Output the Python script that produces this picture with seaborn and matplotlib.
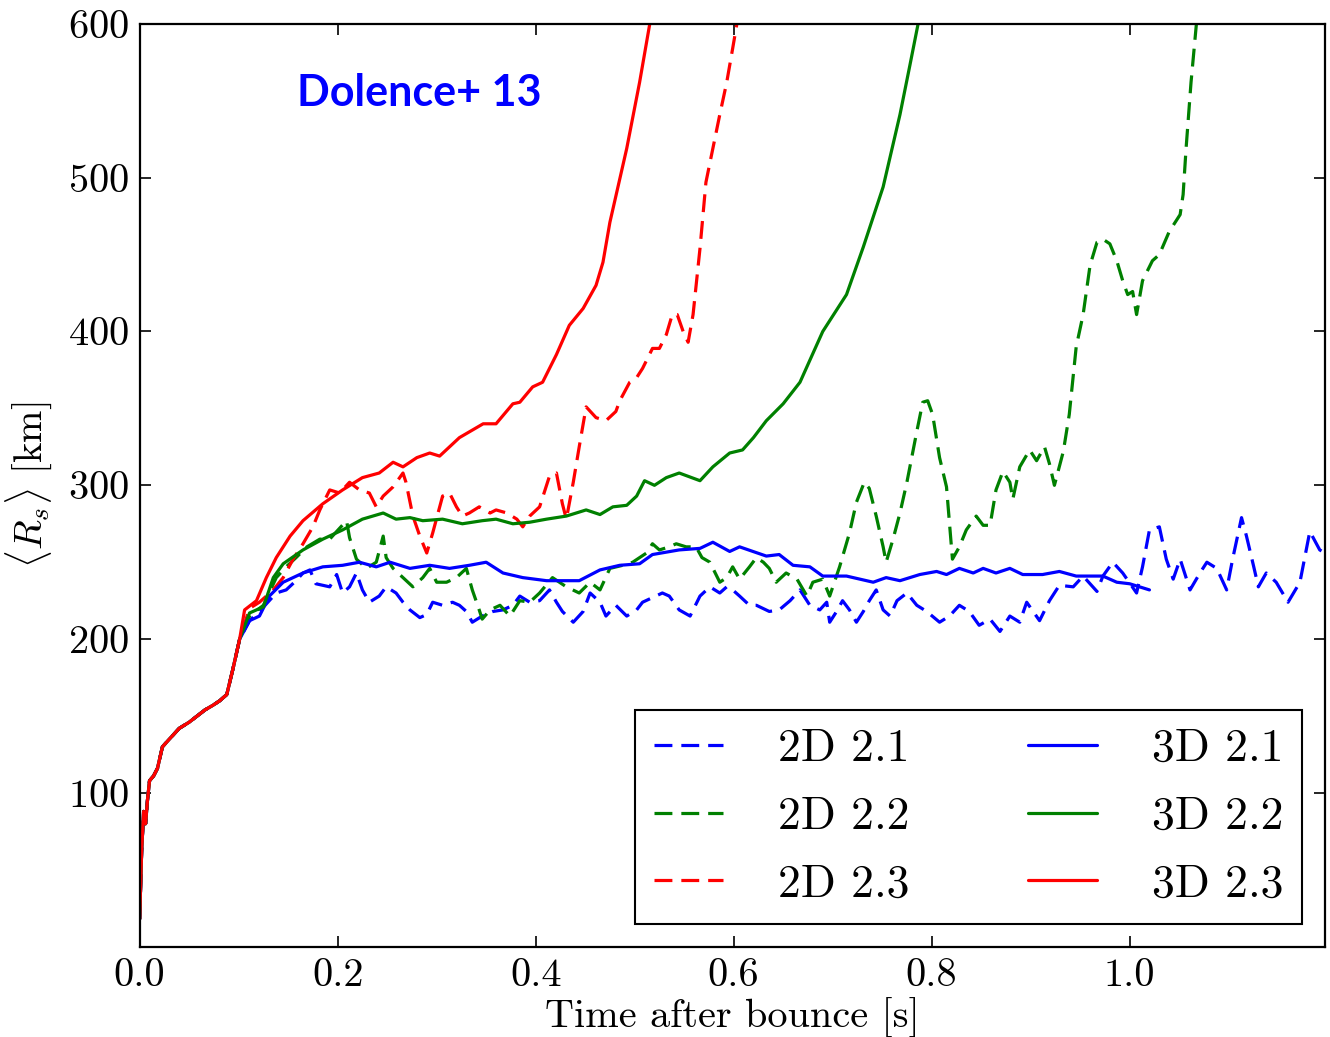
import matplotlib
matplotlib.use("Agg")
import pandas as pd
import matplotlib.pyplot as plt
import seaborn as sns

# Style
sns.set_style("ticks")
plt.rcParams["font.family"] = "serif"
plt.rcParams["font.serif"] = ["cmr10"]
plt.rcParams["mathtext.fontset"] = "cm"
plt.rcParams["axes.formatter.use_mathtext"] = True
for key in ["text.color", "axes.labelcolor", "xtick.color", "ytick.color", "axes.edgecolor"]:
    plt.rcParams[key] = "black"

# Shared early rise (all runs overlap here)
early_t = [0.000, 0.002, 0.004, 0.006, 0.008, 0.010, 0.014, 0.018, 0.023, 0.030,
           0.040, 0.050, 0.058, 0.066, 0.074, 0.081, 0.088, 0.094, 0.101]
early_r = [18, 62, 88, 80, 96, 108, 111, 116, 130, 135,
           142, 146, 150, 154, 157, 160, 164, 180, 200]

# 2D runs (dashed)
t2_21 = [0.111, 0.121, 0.131, 0.138, 0.148, 0.158, 0.165, 0.172, 0.178, 0.192,
         0.199, 0.205, 0.212, 0.219, 0.225, 0.232, 0.242, 0.249, 0.259, 0.266,
         0.273, 0.283, 0.290, 0.296, 0.306, 0.316, 0.323, 0.330, 0.336, 0.346,
         0.357, 0.367, 0.377, 0.384, 0.394, 0.404, 0.414, 0.421, 0.427, 0.438,
         0.448, 0.455, 0.465, 0.471, 0.481, 0.492, 0.502, 0.508, 0.518, 0.528,
         0.535, 0.545, 0.556, 0.566, 0.576, 0.586, 0.593, 0.599, 0.606, 0.616,
         0.623, 0.636, 0.646, 0.657, 0.667, 0.677, 0.687, 0.694, 0.697, 0.704,
         0.710, 0.717, 0.724, 0.731, 0.737, 0.744, 0.751, 0.758, 0.765, 0.775,
         0.785, 0.795, 0.808, 0.818, 0.828, 0.838, 0.848, 0.859, 0.869, 0.879,
         0.889, 0.896, 0.909, 0.919, 0.929, 0.943, 0.953, 0.967, 0.973, 0.983,
         0.993, 1.007, 1.013, 1.020, 1.030, 1.037, 1.044, 1.051, 1.061, 1.071,
         1.078, 1.088, 1.098, 1.104, 1.113, 1.118, 1.125, 1.130, 1.138, 1.148,
         1.160, 1.172, 1.182, 1.192, 1.200]
r2_21 = [212, 218, 225, 230, 232, 238, 243, 245, 236, 234,
         242, 230, 234, 243, 232, 224, 228, 234, 230, 224,
         219, 214, 216, 224, 222, 224, 222, 218, 211, 215,
         218, 219, 222, 228, 224, 225, 232, 224, 218, 211,
         218, 230, 224, 215, 222, 215, 219, 224, 227, 230,
         228, 219, 215, 228, 234, 230, 234, 232, 228, 222,
         222, 218, 219, 225, 232, 222, 219, 224, 211, 218,
         225, 219, 211, 218, 225, 232, 219, 215, 225, 230,
         222, 218, 211, 215, 222, 218, 209, 213, 205, 215,
         211, 224, 212, 225, 235, 234, 241, 231, 241, 250,
         243, 230, 247, 271, 273, 252, 239, 252, 232, 243,
         250, 246, 232, 252, 279, 267, 248, 234, 243, 237,
         224, 237, 270, 258, 255]

t2_22 = [0.111, 0.125, 0.138, 0.148, 0.158, 0.169, 0.182, 0.192, 0.199, 0.209,
         0.212, 0.219, 0.229, 0.239, 0.246, 0.249, 0.256, 0.266, 0.276, 0.286,
         0.293, 0.300, 0.310, 0.320, 0.330, 0.336, 0.343, 0.346, 0.354, 0.364,
         0.374, 0.384, 0.394, 0.404, 0.417, 0.431, 0.444, 0.455, 0.465, 0.475,
         0.488, 0.498, 0.512, 0.518, 0.525, 0.535, 0.542, 0.552, 0.562, 0.568,
         0.576, 0.586, 0.593, 0.599, 0.606, 0.616, 0.623, 0.630, 0.636, 0.643,
         0.653, 0.664, 0.674, 0.680, 0.690, 0.697, 0.707, 0.717, 0.724, 0.732,
         0.737, 0.744, 0.751, 0.754, 0.761, 0.768, 0.775, 0.785, 0.791, 0.796,
         0.801, 0.808, 0.815, 0.821, 0.828, 0.835, 0.845, 0.852, 0.859, 0.865,
         0.872, 0.879, 0.882, 0.889, 0.899, 0.906, 0.914, 0.919, 0.924, 0.933,
         0.939, 0.946, 0.953, 0.960, 0.967, 0.973, 0.980, 0.987, 0.993, 0.998,
         1.003, 1.007, 1.013, 1.023, 1.030, 1.040, 1.051, 1.054, 1.057, 1.062,
         1.067, 1.071]
r2_22 = [215, 222, 240, 247, 253, 260, 265, 265, 270, 277,
         266, 252, 246, 250, 267, 253, 246, 240, 234, 240,
         246, 237, 237, 240, 246, 232, 219, 213, 219, 222,
         215, 225, 224, 230, 240, 234, 230, 237, 232, 246,
         248, 250, 256, 262, 258, 260, 262, 260, 260, 253,
         250, 237, 240, 247, 239, 247, 253, 250, 246, 237,
         243, 239, 228, 237, 239, 228, 247, 269, 289, 302,
         298, 280, 260, 250, 265, 282, 302, 335, 354, 355,
         346, 318, 299, 252, 260, 271, 280, 274, 274, 297,
         309, 302, 291, 312, 323, 316, 325, 314, 300, 322,
         346, 390, 411, 443, 458, 460, 457, 446, 433, 424,
         426, 411, 433, 446, 450, 465, 476, 489, 519, 562,
         597, 625]

t2_23 = [0.111, 0.121, 0.135, 0.145, 0.155, 0.165, 0.175, 0.182, 0.192, 0.202,
         0.212, 0.222, 0.232, 0.239, 0.246, 0.256, 0.266, 0.269, 0.276, 0.283,
         0.290, 0.296, 0.306, 0.313, 0.320, 0.326, 0.333, 0.343, 0.354, 0.360,
         0.371, 0.381, 0.387, 0.394, 0.404, 0.414, 0.421, 0.427, 0.431, 0.438,
         0.444, 0.451, 0.461, 0.471, 0.481, 0.485, 0.495, 0.502, 0.508, 0.518,
         0.525, 0.532, 0.538, 0.543, 0.549, 0.554, 0.559, 0.566, 0.572, 0.579,
         0.586, 0.593, 0.599, 0.603, 0.607]
r2_23 = [220, 224, 232, 240, 252, 262, 273, 284, 297, 295,
         302, 297, 295, 286, 293, 299, 308, 302, 280, 267,
         256, 269, 293, 295, 286, 280, 282, 286, 282, 284,
         282, 278, 273, 280, 286, 306, 308, 288, 278, 302,
         325, 351, 344, 342, 348, 355, 367, 370, 376, 389,
         389, 398, 411, 411, 400, 393, 411, 454, 497, 519,
         541, 562, 584, 599, 620]

# 3D runs (solid)
t3_21 = [0.111, 0.121, 0.131, 0.145, 0.165, 0.185, 0.205, 0.222, 0.239, 0.253,
         0.273, 0.293, 0.313, 0.333, 0.350, 0.367, 0.387, 0.411, 0.444, 0.465,
         0.485, 0.505, 0.518, 0.545, 0.566, 0.579, 0.596, 0.606, 0.633, 0.646,
         0.660, 0.677, 0.690, 0.714, 0.741, 0.754, 0.768, 0.788, 0.805, 0.815,
         0.828, 0.842, 0.852, 0.865, 0.879, 0.892, 0.912, 0.929, 0.946, 0.973,
         0.987, 1.000, 1.020]
r3_21 = [212, 215, 228, 237, 243, 247, 248, 250, 247, 250,
         246, 248, 246, 248, 250, 243, 240, 238, 238, 245,
         248, 249, 255, 258, 259, 263, 257, 260, 254, 255,
         248, 247, 241, 241, 237, 240, 238, 242, 244, 242,
         246, 243, 246, 243, 246, 242, 242, 244, 241, 241,
         237, 236, 232]

t3_22 = [0.111, 0.125, 0.135, 0.145, 0.165, 0.185, 0.205, 0.225, 0.246, 0.259,
         0.273, 0.286, 0.306, 0.326, 0.346, 0.360, 0.377, 0.394, 0.411, 0.431,
         0.451, 0.465, 0.478, 0.492, 0.502, 0.510, 0.520, 0.532, 0.545, 0.566,
         0.579, 0.596, 0.609, 0.620, 0.633, 0.650, 0.667, 0.690, 0.714, 0.731,
         0.751, 0.768, 0.778, 0.786, 0.792]
r3_22 = [217, 221, 240, 249, 258, 265, 271, 278, 282, 278,
         279, 277, 278, 275, 277, 278, 275, 276, 278, 280,
         284, 281, 286, 287, 293, 303, 300, 305, 308, 303,
         312, 321, 323, 331, 342, 353, 367, 400, 424, 455,
         494, 541, 573, 599, 620]

t3_23 = [0.106, 0.118, 0.128, 0.138, 0.152, 0.165, 0.185, 0.205, 0.225, 0.242,
         0.256, 0.266, 0.280, 0.293, 0.303, 0.323, 0.347, 0.360, 0.377, 0.384,
         0.397, 0.407, 0.421, 0.434, 0.448, 0.461, 0.468, 0.475, 0.492, 0.505,
         0.515, 0.522]
r3_23 = [219, 225, 240, 253, 267, 277, 288, 297, 305, 308,
         315, 312, 318, 321, 319, 331, 340, 340, 353, 354,
         364, 367, 385, 404, 415, 430, 445, 471, 519, 562,
         599, 625]

dash = (0, (5.6, 2.8))
runs = [
    ("2D 2.1", t2_21, r2_21, "#0000ff", dash),
    ("2D 2.2", t2_22, r2_22, "#008000", dash),
    ("2D 2.3", t2_23, r2_23, "#ff0000", dash),
    ("3D 2.1", t3_21, r3_21, "#0000ff", "-"),
    ("3D 2.2", t3_22, r3_22, "#008000", "-"),
    ("3D 2.3", t3_23, r3_23, "#ff0000", "-"),
]

fig = plt.figure(figsize=(13.3, 10.37), dpi=100)
ax = fig.add_axes([0.105, 0.087, 0.891, 0.89])

for label, t, r, color, ls in runs:
    df = pd.DataFrame({"time": early_t + t, "radius": early_r + r})
    sns.lineplot(data=df, x="time", y="radius", color=color, linestyle=ls,
                 lw=2.3, estimator=None, sort=False, label=label, ax=ax)

ax.set_xlim(0, 1.197)
ax.set_ylim(0, 600)
ax.set_xticks([0.0, 0.2, 0.4, 0.6, 0.8, 1.0])
ax.set_xticklabels(["0.0", "0.2", "0.4", "0.6", "0.8", "1.0"])
ax.set_yticks([100, 200, 300, 400, 500, 600])
ax.tick_params(direction="in", top=True, right=True, length=8, width=1.2,
               labelsize=29, pad=8)
for side in ax.spines.values():
    side.set_linewidth(1.6)

ax.set_xlabel("Time after bounce [s]", fontsize=29, labelpad=3)
ax.set_ylabel(r"$\langle R_s\rangle$ [km]", fontsize=28, labelpad=10)

ax.text(0.159, 555, "Dolence+ 13", fontfamily="Lato", fontweight="bold",
        color="#0000ff", fontsize=31, va="center", ha="left")

leg = ax.legend(ncol=2, loc="lower right", fontsize=33, handlelength=1.5,
                handletextpad=1.2, columnspacing=2.6, labelspacing=0.57,
                borderaxespad=0.5, borderpad=0.4, fancybox=False,
                edgecolor="black", framealpha=1)
leg.get_frame().set_linewidth(1.5)

plt.savefig("out.png", dpi=100)
plt.close()
